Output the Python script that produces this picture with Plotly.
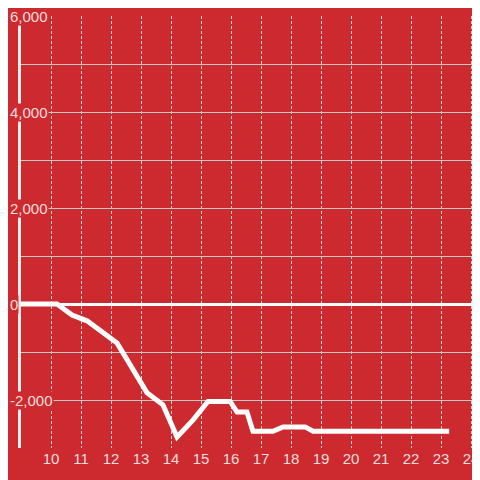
import plotly.graph_objects as go

# series
x_vals = [9.0, 10.2, 10.7, 11.2, 12.2, 13.2, 13.73, 14.2, 14.73, 15.23, 15.97,
          16.2, 16.53, 16.73, 17.4, 17.73, 18.47, 18.73, 23.27]
y_vals = [0, 0, -230, -350, -810, -1850, -2100, -2770, -2420, -2030, -2030,
          -2250, -2250, -2650, -2650, -2560, -2560, -2650, -2650]

x_ticks = list(range(10, 25))
y_ticks = [-2000, 0, 2000, 4000, 6000]
y_tick_text = ["-2,000", "0", "2,000", "4,000", "6,000"]

BG = "#cc2a2f"
LABEL = "#f6dede"
FONT = "Liberation Sans, Arial, sans-serif"

fig = go.Figure()
fig.add_trace(go.Scatter(
    x=x_vals, y=y_vals, mode="lines",
    line=dict(color="white", width=5),
    hoverinfo="skip",
))

# y tick labels sit on top of the axis with a red box behind them
for val, txt in zip(y_ticks, y_tick_text):
    fig.add_annotation(
        x=-0.026, xref="paper", y=val, yref="y",
        text=txt, showarrow=False, xanchor="left", yanchor="middle",
        bgcolor=BG, borderpad=0,
        font=dict(family=FONT, size=15, color=LABEL),
    )

fig.update_layout(
    width=488, height=488, autosize=False,
    # page body adds an 8px offset; the plot runs past the right edge of the window
    margin=dict(l=13, r=0, t=8, b=48, autoexpand=False),
    paper_bgcolor=BG, plot_bgcolor=BG,
    showlegend=False,
    font=dict(family=FONT, size=15, color=LABEL),
    xaxis=dict(
        range=[9, 24.83], tickvals=x_ticks, automargin=False,
        showgrid=True, gridcolor="#f0d0d0", griddash="3px,2px", gridwidth=1,
        zeroline=False, showline=False, ticks="",
        tickfont=dict(family=FONT, size=15, color=LABEL),
    ),
    yaxis=dict(
        range=[-3000, 6000], dtick=1000, showticklabels=False, automargin=False,
        showgrid=True, gridcolor="#d0c4c4", gridwidth=1,
        zeroline=True, zerolinecolor="white", zerolinewidth=3,
        showline=True, linecolor="#f4eeee", linewidth=3, ticks="",
    ),
)

fig.write_html("out.html", config={"responsive": False})
